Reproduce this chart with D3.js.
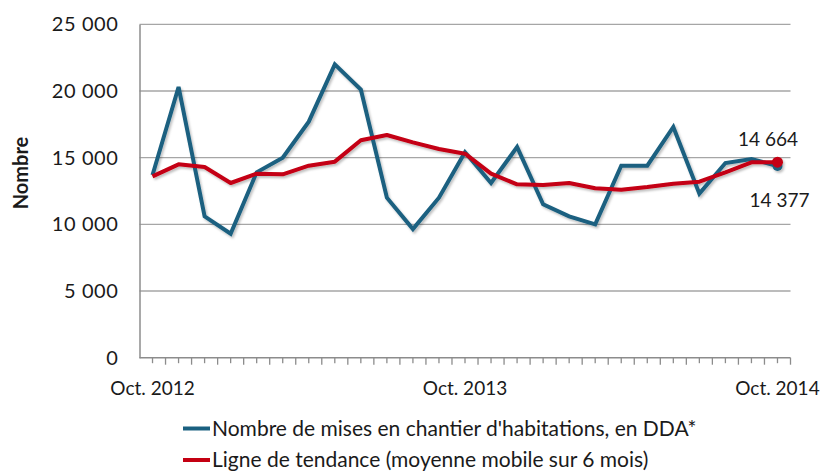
<!DOCTYPE html>
<html><head><meta charset="utf-8">
<script src="https://cdn.jsdelivr.net/npm/d3@7"></script>
<style>body{margin:0;background:#fff;} svg{display:block;}</style>
</head><body>
<svg id="c" width="824" height="473"></svg>
<script>
const months = ["Oct. 2012","Nov. 2012","Déc. 2012","Janv. 2013","Févr. 2013","Mars 2013","Avr. 2013","Mai 2013","Juin 2013","Juil. 2013","Août 2013","Sept. 2013","Oct. 2013","Nov. 2013","Déc. 2013","Janv. 2014","Févr. 2014","Mars 2014","Avr. 2014","Mai 2014","Juin 2014","Juil. 2014","Août 2014","Sept. 2014","Oct. 2014"];
const starts = [13700,20300,10600,9300,13900,15000,17700,22000,20100,12000,9650,12000,15400,13100,15800,11500,10600,10000,14400,14400,17300,12300,14600,14900,14377];
const trend = [13600,14500,14300,13100,13800,13750,14400,14700,16300,16700,16150,15650,15300,13800,13000,12950,13100,12700,12600,12800,13050,13200,13900,14650,14664];
const yTicks = [0,5000,10000,15000,20000,25000];
const xLabels = ["Oct. 2012","Oct. 2013","Oct. 2014"];
const seriesNames = ["Nombre de mises en chantier d'habitations, en DDA*","Ligne de tendance (moyenne mobile sur 6 mois)"];
const lastLabels = ["14 664","14 377"];

const FONT = "Lato, 'Open Sans', sans-serif";
const BLUE = "#1a6080", RED = "#c40012";
const svg = d3.select("#c");
const L = 139.5, R = 790.5, T = 24.3, B = 357.7;

const defs = svg.append("defs");
const f = defs.append("filter").attr("id","sh").attr("x","-10%").attr("y","-10%").attr("width","120%").attr("height","130%");
f.append("feDropShadow").attr("dx",1.5).attr("dy",2).attr("stdDeviation",1.2).attr("flood-color","#000").attr("flood-opacity",0.25);

const x = d3.scaleBand().domain(months).range([L, R]).padding(0);
const xc = d => x(d) + x.bandwidth()/2;
const y = d3.scaleLinear().domain([0,25000]).range([B, T]);
const fmt = v => d3.format(",")(v).replace(/,/g, " ");

// gridlines
svg.append("g").selectAll("line").data(yTicks.filter(v=>v>0)).join("line")
  .attr("x1", L).attr("x2", R).attr("y1", d=>y(d)).attr("y2", d=>y(d))
  .attr("stroke", "#a6a6a6").attr("stroke-width", 1.3);

// y axis
const ya = svg.append("g").attr("transform", `translate(${L},0)`)
  .call(d3.axisLeft(y).tickValues(yTicks).tickSize(0).tickPadding(21).tickFormat(fmt));
ya.select(".domain").attr("stroke", "#8c8c8c").attr("stroke-width", 1.5);
ya.selectAll("text").attr("font-family", FONT).attr("font-size", 20).attr("letter-spacing", 0.6).attr("fill", "#1a1a1a");

// x axis
const xa = svg.append("g").attr("transform", `translate(0,${B})`);
xa.append("line").attr("x1", L).attr("x2", R).attr("stroke", "#8c8c8c").attr("stroke-width", 1.5);
const tickPos = [];
months.forEach((m,i)=>{ tickPos.push({p:x(m)+x.bandwidth(), long:true}); tickPos.push({p:xc(m), long:false}); });
xa.selectAll("line.t").data(tickPos).join("line").attr("class","t")
  .attr("x1", d=>d.p).attr("x2", d=>d.p).attr("y1", 0).attr("y2", d=>d.long?7:5.5)
  .attr("stroke", "#8c8c8c").attr("stroke-width", 1.3);
xa.selectAll("text").data(xLabels).join("text")
  .attr("x", d=>xc(d)).attr("y", 37).attr("text-anchor","middle")
  .attr("font-family", FONT).attr("font-size", 19).attr("fill", "#1a1a1a").text(d=>d);

// y title
svg.append("text").attr("transform", `translate(27.5,173) rotate(-90)`)
  .attr("text-anchor","middle").attr("font-family", FONT).attr("font-weight","bold")
  .attr("font-size", 20).attr("fill","#1a1a1a").text("Nombre");

const line = d3.line().x((d,i)=>xc(months[i])).y(d=>y(d));
const lines = svg.append("g").attr("filter","url(#sh)");
lines.append("path").datum(starts).attr("d", line).attr("fill","none").attr("stroke", BLUE)
  .attr("stroke-width", 4).attr("stroke-linejoin","miter");
lines.append("circle").attr("cx", xc(months[24])).attr("cy", y(starts[24])).attr("r", 5).attr("fill", BLUE);
lines.append("path").datum(trend).attr("d", line).attr("fill","none").attr("stroke", RED)
  .attr("stroke-width", 4).attr("stroke-linejoin","round");
lines.append("circle").attr("cx", xc(months[24])).attr("cy", y(trend[24])).attr("r", 5.5).attr("fill", RED);

svg.append("text").attr("x", xc(months[24])+20.5).attr("y", y(trend[24])-16).attr("text-anchor","end")
  .attr("font-family", FONT).attr("font-size", 19).attr("fill","#1a1a1a").text(lastLabels[0]);
svg.append("text").attr("x", xc(months[24])+32).attr("y", y(starts[24])+41).attr("text-anchor","end")
  .attr("font-family", FONT).attr("font-size", 19).attr("fill","#1a1a1a").text(lastLabels[1]);

// legend
const lg = svg.append("g");
[BLUE, RED].forEach((c,i)=>{
  const yy = 428.5 + i*31.5;
  lg.append("line").attr("x1",183).attr("x2",210).attr("y1",yy).attr("y2",yy).attr("stroke",c).attr("stroke-width",4);
  lg.append("text").attr("x",212).attr("y",yy+7).attr("font-family",FONT).attr("font-size",21)
    .attr("fill","#1a1a1a").text(seriesNames[i]);
});
</script>
</body></html>
